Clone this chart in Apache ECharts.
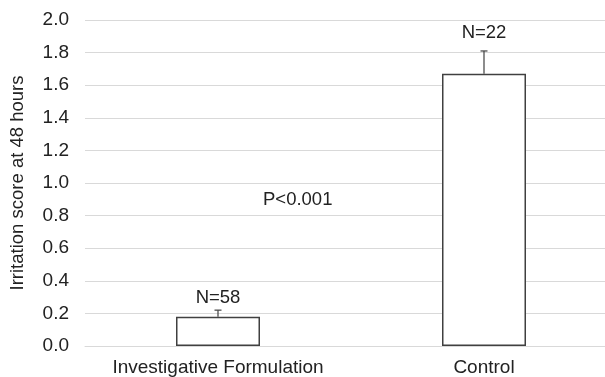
<!DOCTYPE html>
<html>
<head>
<meta charset="utf-8">
<script src="https://cdn.jsdelivr.net/npm/echarts@6/dist/echarts.min.js"></script>
<style>html,body{margin:0;padding:0;background:#fff;overflow:hidden;width:605px;height:377px;}#c{width:617px;height:377px;}</style>
</head>
<body>
<div id="c"></div>
<script>
const categories = ['Investigative Formulation', 'Control'];
const means = [0.18, 1.67];
const errUpper = [0.22, 1.81];
const nLabels = ['N=58', 'N=22'];
const pText = 'P<0.001';
const yMin = 0, yMax = 2.0, yStep = 0.2;

const FONT = '"Liberation Sans", Arial, sans-serif';
const TXT = '#222222';
const LABEL_GAPS = [12, 18];

const chart = echarts.init(document.getElementById('c'), null, {renderer: 'canvas'});
chart.setOption({
  animation: false,
  grid: {left: 82, right: 0, top: 20, bottom: 30, containLabel: false},
  xAxis: {
    type: 'category', data: categories,
    axisLine: {show: true, lineStyle: {color: '#d9d9d9', width: 1}},
    axisTick: {show: false},
    axisLabel: {color: TXT, fontSize: 19, fontFamily: FONT, margin: 12, interval: 0}
  },
  yAxis: {
    type: 'value', min: yMin, max: yMax, interval: yStep,
    name: 'Irritation score at 48 hours', nameLocation: 'middle', nameGap: 58, nameRotate: 90,
    nameTextStyle: {color: TXT, fontSize: 18.5, fontFamily: FONT},
    axisLine: {show: false}, axisTick: {show: false},
    axisLabel: {color: TXT, fontSize: 19, fontFamily: FONT, margin: 16, formatter: v => v.toFixed(1)},
    splitLine: {lineStyle: {color: '#d9d9d9', width: 1}}
  },
  series: [
    {
      type: 'bar', data: means, barWidth: 84,
      itemStyle: {color: '#ffffff', borderColor: '#404040', borderWidth: 1.5}
    },
    {
      type: 'custom',
      data: categories.map((c, i) => [i, means[i], errUpper[i]]),
      renderItem: function (params, api) {
        const x = api.value(0);
        const base = api.coord([x, api.value(1)]);
        const top = api.coord([x, api.value(2)]);
        const half = 3.5;
        return {
          type: 'group',
          children: [
            {type: 'line', shape: {x1: base[0], y1: base[1], x2: top[0], y2: top[1]}, style: {stroke: '#404040', lineWidth: 1.2}},
            {type: 'line', shape: {x1: top[0] - half, y1: top[1], x2: top[0] + half, y2: top[1]}, style: {stroke: '#404040', lineWidth: 1.2}},
            {type: 'text', x: top[0], y: top[1] - LABEL_GAPS[params.dataIndex], style: {text: nLabels[params.dataIndex], fill: TXT, font: '18.5px ' + FONT, textAlign: 'center', textVerticalAlign: 'middle'}}
          ]
        };
      },
      z: 5
    }
  ],
  graphic: [
    {type: 'text', left: 263, top: 190, style: {text: pText, fill: TXT, font: '18.5px ' + FONT}}
  ]
});
</script>
</body>
</html>
